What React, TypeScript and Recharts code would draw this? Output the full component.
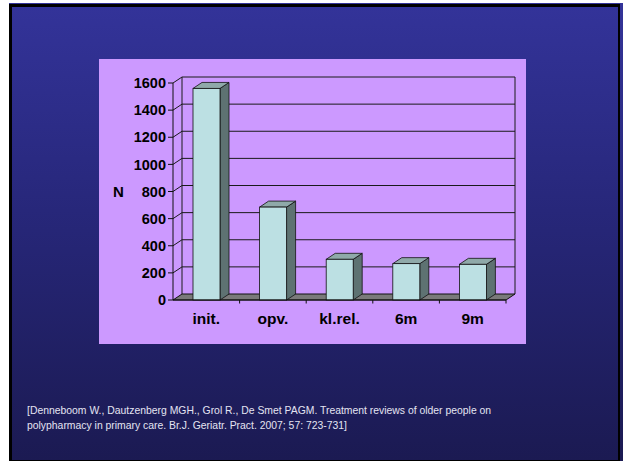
import React from 'react';
import { BarChart, Bar, XAxis, YAxis, CartesianGrid } from 'recharts';

const categories = ['init.', 'opv.', 'kl.rel.', '6m', '9m'];
const counts = [1560, 685, 300, 268, 263];
const yTicks = [0, 200, 400, 600, 800, 1000, 1200, 1400, 1600];
const yAxisLabel = 'N';
const citationLines = [
  '[Denneboom W., Dautzenberg MGH., Grol R., De Smet PAGM. Treatment reviews of older people on',
  'polypharmacy in primary care. Br.J. Geriatr. Pract. 2007; 57: 723-731]',
];

const data = categories.map((c, i) => ({ name: c, value: counts[i] }));

const DX = 9;
const DY = 6;
const FONT = '"Liberation Sans", Arial, sans-serif';

const renderGridLine = (props: any) => {
  const { x1, y1, x2, y2, y, height, index } = props;
  const k = props.key ?? `g-${index}`;
  const bottom = typeof y === 'number' && typeof height === 'number' ? y + height : null;
  const isBottom = bottom != null ? Math.abs(y1 - bottom) < 0.5 : index === 0;
  if (isBottom) {
    const top = typeof y === 'number' ? y : y1 - 217;
    return (
      <g key={k}>
        <line x1={x1 + DX} y1={y1 - DY} x2={x1 + DX} y2={top - DY} stroke="#1a1a1a" strokeWidth={1} />
        <line x1={x2 + DX} y1={y2 - DY} x2={x2 + DX} y2={top - DY} stroke="#1a1a1a" strokeWidth={1} />
        <polygon
          points={`${x1},${y1} ${x1 + DX},${y1 - DY} ${x2 + DX},${y2 - DY} ${x2},${y2}`}
          fill="#7a7a7a"
          stroke="#111"
          strokeWidth={1}
        />
      </g>
    );
  }
  return (
    <g key={k}>
      <line x1={x1} y1={y1} x2={x1 + DX} y2={y1 - DY} stroke="#1a1a1a" strokeWidth={1} />
      <line x1={x1 + DX} y1={y1 - DY} x2={x2 + DX} y2={y2 - DY} stroke="#1a1a1a" strokeWidth={1} />
    </g>
  );
};

const Bar3D = (props: any) => {
  const { x, y, width: w, height: h } = props;
  if (h == null || w == null) return null;
  return (
    <g>
      <polygon
        points={`${x + w},${y} ${x + w + DX},${y - DY} ${x + w + DX},${y + h - DY} ${x + w},${y + h}`}
        fill="#5e7272"
        stroke="#111"
        strokeWidth={0.8}
      />
      <polygon
        points={`${x},${y} ${x + DX},${y - DY} ${x + w + DX},${y - DY} ${x + w},${y}`}
        fill="#8fa9a9"
        stroke="#111"
        strokeWidth={0.8}
      />
      <rect x={x} y={y} width={w} height={h} fill="#bce0e3" stroke="#111" strokeWidth={0.8} />
    </g>
  );
};

const CategoryTick = (props: any) => {
  const { x, y, payload } = props;
  const off = payload && typeof payload.offset === 'number' ? payload.offset : 0;
  return (
    <g>
      {off > 0 && <line x1={x + off} y1={y} x2={x + off} y2={y + 3.5} stroke="#111" strokeWidth={1} />}
      <text
        x={x}
        y={y + 23.5}
        textAnchor="middle"
        fill="#000"
        fontFamily={FONT}
        fontWeight="bold"
        fontSize={15.5}
      >
        {payload.value}
      </text>
    </g>
  );
};

export default function App() {
  return (
    <div style={{ position: 'absolute', left: 0, top: 0, width: 623, height: 461, background: '#fff', overflow: 'hidden' }}>
      <div
        style={{
          position: 'absolute',
          left: 9,
          top: 3,
          width: 614,
          height: 458,
          background: 'linear-gradient(to bottom, #343499 0%, #27277a 45%, #1b1a52 100%)',
        }}
      >
        <div
          style={{
            position: 'absolute',
            left: 0,
            top: 1,
            width: 611,
            height: 457,
            boxSizing: 'border-box',
            borderLeft: '3px solid #000',
            borderTop: '3px solid #000',
            borderRight: '2px solid #000',
            borderBottom: '1px solid #000',
            background: 'linear-gradient(to bottom, #333399 0%, #27277a 45%, #1b1a52 100%)',
          }}
        />
      </div>
      <div style={{ position: 'absolute', left: 99, top: 59, width: 427, height: 285, background: '#cc99ff' }}>
        <BarChart
          width={427}
          height={285}
          data={data}
          margin={{ top: 24, right: 20, bottom: 0, left: 0 }}
          barSize={27}
        >
          <CartesianGrid horizontal={renderGridLine} vertical={false} stroke="#1a1a1a" />
          <XAxis
            dataKey="name"
            interval={0}
            tickLine={false}
            tickSize={0}
            tickMargin={0}
            height={44}
            axisLine={{ stroke: '#111' }}
            tick={<CategoryTick />}
          />
          <YAxis
            domain={[0, 1600]}
            ticks={yTicks}
            interval={0}
            width={74}
            tickSize={5}
            tickMargin={2}
            axisLine={{ stroke: '#111' }}
            tickLine={{ stroke: '#111' }}
            tick={{ fill: '#000', fontSize: 14.5, fontWeight: 'bold', fontFamily: FONT }}
            label={{
              value: yAxisLabel,
              position: 'insideLeft',
              offset: 14,
              fill: '#000',
              fontSize: 15,
              fontWeight: 'bold',
              fontFamily: FONT,
            }}
          />
          <Bar dataKey="value" shape={<Bar3D />} isAnimationActive={false} />
        </BarChart>
      </div>
      <div
        style={{
          position: 'absolute',
          left: 27,
          top: 403,
          width: 590,
          color: '#e4e4f2',
          fontFamily: FONT,
          fontSize: 10.4,
          lineHeight: '15px',
        }}
      >
        {citationLines.map((l, i) => (
          <div key={i} style={{ whiteSpace: 'nowrap' }}>{l}</div>
        ))}
      </div>
    </div>
  );
}
